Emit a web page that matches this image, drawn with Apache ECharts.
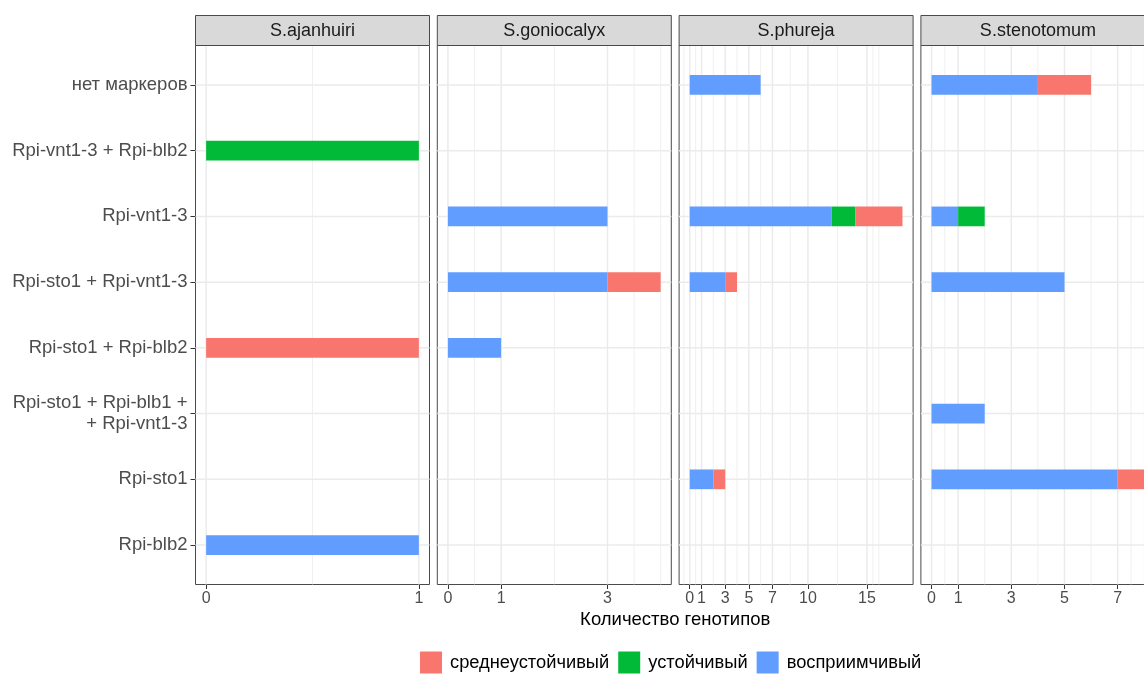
<!DOCTYPE html>
<html>
<head>
<meta charset="utf-8">
<script src="https://cdn.jsdelivr.net/npm/echarts@6/dist/echarts.min.js"></script>
<style>
  html, body { margin: 0; padding: 0; background: #ffffff; overflow: hidden; }
  /* the last facet runs slightly past the right edge of the window */
  #chart { width: 1160px; height: 675px; }
</style>
</head>
<body>
<div id="chart"></div>
<script>
// Marker combinations, listed bottom to top (y positions 1..8)
const categories = [
  'Rpi-blb2',
  'Rpi-sto1',
  'Rpi-sto1 + Rpi-blb1 +\n+ Rpi-vnt1-3',
  'Rpi-sto1 + Rpi-blb2',
  'Rpi-sto1 + Rpi-vnt1-3',
  'Rpi-vnt1-3',
  'Rpi-vnt1-3 + Rpi-blb2',
  'нет маркеров'
];

const species = ['S.ajanhuiri', 'S.goniocalyx', 'S.phureja', 'S.stenotomum'];

// Resistance classes in stacking order (first one starts at zero)
const statuses = ['восприимчивый', 'устойчивый', 'среднеустойчивый'];
const statusColors = ['#619CFF', '#00BA38', '#F8766D'];
const legendOrder = ['среднеустойчивый', 'устойчивый', 'восприимчивый'];

// Genotype counts per marker combination (same order as categories)
const ajanhuiriSusceptible = [1, 0, 0, 0, 0, 0, 0, 0];
const ajanhuiriResistant   = [0, 0, 0, 0, 0, 0, 1, 0];
const ajanhuiriModerate    = [0, 0, 0, 1, 0, 0, 0, 0];

const goniocalyxSusceptible = [0, 0, 0, 1, 3, 3, 0, 0];
const goniocalyxResistant   = [0, 0, 0, 0, 0, 0, 0, 0];
const goniocalyxModerate    = [0, 0, 0, 0, 1, 0, 0, 0];

const phurejaSusceptible = [0, 2, 0, 0, 3, 12, 0, 6];
const phurejaResistant   = [0, 0, 0, 0, 0, 2, 0, 0];
const phurejaModerate    = [0, 1, 0, 0, 1, 4, 0, 0];

const stenotomumSusceptible = [0, 7, 2, 0, 5, 1, 0, 4];
const stenotomumResistant   = [0, 0, 0, 0, 0, 1, 0, 0];
const stenotomumModerate    = [0, 1, 0, 0, 0, 0, 0, 2];

// Tick values shared by all panels (only those inside a panel's range are shown)
const xBreaks = [0, 1, 3, 5, 7, 10, 15];

const panelCounts = [
  [ajanhuiriSusceptible, ajanhuiriResistant, ajanhuiriModerate],
  [goniocalyxSusceptible, goniocalyxResistant, goniocalyxModerate],
  [phurejaSusceptible, phurejaResistant, phurejaModerate],
  [stenotomumSusceptible, stenotomumResistant, stenotomumModerate]
];

// ---- layout ----
const FONT = '"Liberation Sans", Arial, Helvetica, sans-serif';
const PANEL_LEFT0 = 195.5;
const PANEL_STEP = 241.8;
const PANEL_W = 234;
const PANEL_TOP = 45.5;
const PANEL_H = 539;
const STRIP_TOP = 15.5;
const STRIP_H = 30;
const BAR_WIDTH = 0.3;
const FRAME_COLOR = '#4a4a4a';
const Y_MIN = 0.4, Y_MAX = categories.length + 0.6;
const yTicks = categories.map((c, i) => i + 1);

// Minor grid positions: midpoints between major breaks, extended one step past the ends
function minorBreaks(major, lo, hi) {
  const b = major.slice();
  const bd = b[1] - b[0];
  if (lo < b[0]) b.unshift(b[0] - bd);
  if (hi > b[b.length - 1]) b.push(b[b.length - 1] + bd);
  const out = [];
  for (let i = 0; i < b.length - 1; i++) out.push(b[i], (b[i] + b[i + 1]) / 2);
  out.push(b[b.length - 1]);
  return out.filter(v => v >= lo && v <= hi && major.indexOf(v) < 0);
}

const grids = [], xAxes = [], yAxes = [], series = [], graphics = [];

panelCounts.forEach((counts, p) => {
  const left = PANEL_LEFT0 + p * PANEL_STEP;
  const totals = categories.map((c, i) => counts.reduce((s, arr) => s + arr[i], 0));
  const maxTotal = Math.max.apply(null, totals);
  const lo = -0.05 * maxTotal, hi = 1.05 * maxTotal;
  const majors = xBreaks.filter(v => v >= lo && v <= hi);
  const minors = minorBreaks(majors, lo, hi);

  grids.push({
    left: left, top: PANEL_TOP, width: PANEL_W, height: PANEL_H,
    show: true, backgroundColor: '#ffffff', borderColor: FRAME_COLOR, borderWidth: 1
  });

  xAxes.push({
    gridIndex: p, type: 'value', min: lo, max: hi, position: 'bottom',
    axisLine: { show: false, onZero: false },
    splitLine: { show: false },
    axisTick: { show: true, inside: false, customValues: majors, length: 4.5, lineStyle: { color: '#333333', width: 1 } },
    axisLabel: { customValues: majors, color: '#4D4D4D', fontSize: 16, fontFamily: FONT, margin: 6 }
  });

  yAxes.push({
    gridIndex: p, type: 'value', min: Y_MIN, max: Y_MAX, position: 'left',
    axisLine: { show: false, onZero: false },
    splitLine: { show: false },
    axisTick: { show: p === 0, inside: false, customValues: yTicks, length: 5, lineStyle: { color: '#333333', width: 1 } },
    axisLabel: {
      show: p === 0, customValues: yTicks, color: '#4D4D4D', fontSize: 18.5, fontFamily: FONT,
      margin: 8, lineHeight: 21, align: 'right',
      formatter: v => categories[Math.round(v) - 1]
    }
  });

  // Panel grid lines
  const gridData = [];
  minors.forEach(v => gridData.push([v, 0]));
  majors.forEach(v => gridData.push([v, 1]));
  yTicks.forEach(v => gridData.push([v, 2]));
  series.push({
    type: 'custom', xAxisIndex: p, yAxisIndex: p, silent: true, z: 1,
    encode: { x: 0, y: 1 },
    data: gridData,
    renderItem: function (params, api) {
      const v = api.value(0), kind = api.value(1);
      let a, b;
      if (kind === 2) { a = api.coord([lo, v]); b = api.coord([hi, v]); }
      else { a = api.coord([v, Y_MIN]); b = api.coord([v, Y_MAX]); }
      return {
        type: 'line', silent: true,
        shape: { x1: a[0], y1: a[1], x2: b[0], y2: b[1] },
        style: { stroke: '#EBEBEB', lineWidth: kind === 0 ? 0.75 : 1.5 }
      };
    }
  });

  // Stacked horizontal bars
  const running = categories.map(() => 0);
  statuses.forEach((name, s) => {
    const data = [];
    counts[s].forEach((val, i) => {
      if (val > 0) data.push([running[i], running[i] + val, i + 1]);
      running[i] += val;
    });
    const color = statusColors[s];
    series.push({
      name: name, type: 'custom', xAxisIndex: p, yAxisIndex: p, z: 2,
      itemStyle: { color: color },
      encode: { x: [0, 1], y: 2 },
      data: data,
      renderItem: function (params, api) {
        const a = api.coord([api.value(0), api.value(2)]);
        const b = api.coord([api.value(1), api.value(2)]);
        const h = api.size([0, BAR_WIDTH])[1];
        return {
          type: 'rect',
          shape: { x: a[0], y: a[1] - h / 2, width: b[0] - a[0], height: h },
          style: { fill: color }
        };
      }
    });
  });

  // Facet strip
  graphics.push({
    type: 'rect', silent: true, z: 10,
    shape: { x: left, y: STRIP_TOP, width: PANEL_W, height: STRIP_H },
    style: { fill: '#D9D9D9', stroke: FRAME_COLOR, lineWidth: 1 }
  });
  graphics.push({
    type: 'text', silent: true, z: 11,
    x: left + PANEL_W / 2, y: STRIP_TOP + STRIP_H / 2 + 0.5,
    style: {
      text: species[p], fill: '#1A1A1A', font: '18px ' + FONT,
      align: 'center', verticalAlign: 'middle', textAlign: 'center', textVerticalAlign: 'middle'
    }
  });
});

// Shared x-axis title
graphics.push({
  type: 'text', silent: true, z: 11,
  x: PANEL_LEFT0 + (3 * PANEL_STEP + PANEL_W) / 2, y: 619.5,
  style: {
    text: 'Количество генотипов', fill: '#000000', font: '18.5px ' + FONT,
    align: 'center', verticalAlign: 'middle', textAlign: 'center', textVerticalAlign: 'middle'
  }
});

const chart = echarts.init(document.getElementById('chart'), null, { renderer: 'canvas' });
chart.setOption({
  animation: false,
  backgroundColor: '#ffffff',
  grid: grids,
  xAxis: xAxes,
  yAxis: yAxes,
  legend: {
    data: legendOrder,
    left: 420, top: 651.5, padding: 0,
    icon: 'rect', itemWidth: 22, itemHeight: 22, itemGap: 9,
    textStyle: { fontSize: 18.3, color: '#000000', fontFamily: FONT, padding: [0, 0, 0, 3] }
  },
  graphic: graphics,
  series: series
});
</script>
</body>
</html>
